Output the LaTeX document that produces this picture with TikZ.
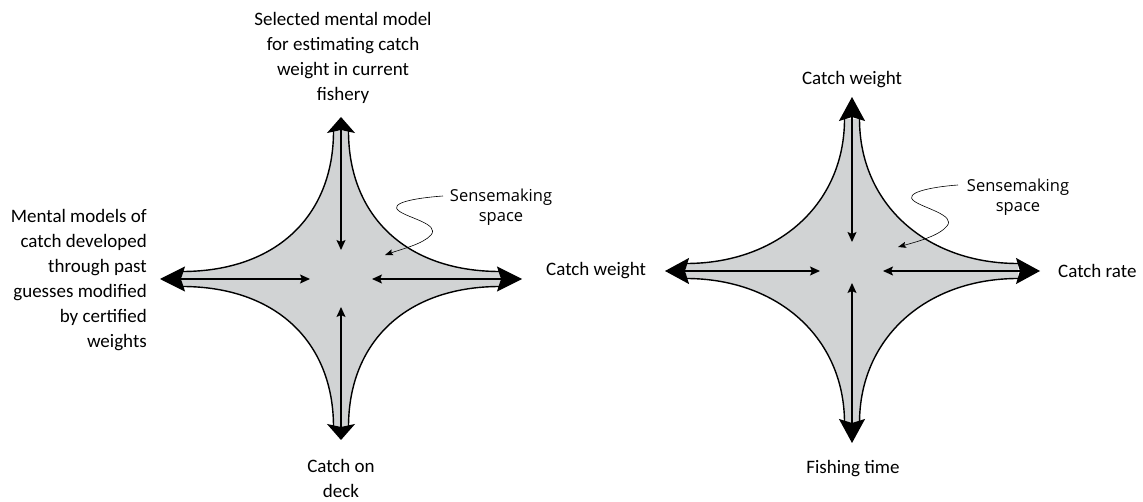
\documentclass[tikz,border=0pt]{standalone}
\usepackage{fontspec}
\setmainfont{Carlito}
\newfontfamily\smfont{Open Sans}
\usetikzlibrary{arrows.meta}
\definecolor{stargray}{RGB}{209,211,212}
\tikzset{
  bigh/.tip={Stealth[length=25pt,width=25pt,inset=4pt]},
  bigv/.tip={Stealth[length=16pt,width=28pt,inset=3pt]},
  bigr/.tip={Stealth[length=24pt,width=26pt,inset=4pt]},
  smalltip/.tip={Stealth[length=10pt,width=9pt,inset=2pt]},
  thintip/.tip={Stealth[length=8pt,width=6pt,inset=1.5pt]},
  outline/.style={line width=1.4pt,black},
  axisarrow/.style={line width=1.3pt,black},
  squiggle/.style={line width=0.6pt,black,-thintip},
  lbl/.style={font=\fontsize{19}{25}\selectfont,inner sep=0pt,align=center},
  smlbl/.style={font=\smfont\fontsize{16.5}{20}\selectfont,inner sep=0pt,align=center},
}
% #1 Lh, #2 Lv, #3 ah, #4 av
\newcommand\starshape[4]{%
  \fill[stargray] (7.5,-#2) .. controls (7.5,-#4) and (#3,-7.5) .. (#1,-7.5)
    -- (#1,7.5) .. controls (#3,7.5) and (7.5,#4) .. (7.5,#2)
    -- (-7.5,#2) .. controls (-7.5,#4) and (-#3,7.5) .. (-#1,7.5)
    -- (-#1,-7.5) .. controls (-#3,-7.5) and (-7.5,-#4) .. (-7.5,-#2) -- cycle;
  \draw[outline] (7.5,-#2) .. controls (7.5,-#4) and (#3,-7.5) .. (#1,-7.5);
  \draw[outline] (#1,7.5) .. controls (#3,7.5) and (7.5,#4) .. (7.5,#2);
  \draw[outline] (-7.5,#2) .. controls (-7.5,#4) and (-#3,7.5) .. (-#1,7.5);
  \draw[outline] (-#1,-7.5) .. controls (-#3,-7.5) and (-7.5,-#4) .. (-7.5,-#2);
}
\begin{document}
\begin{tikzpicture}[x=1pt,y=-1pt]
\useasboundingbox (0,0) rectangle (1143,502);

% ---------- left star ----------
\begin{scope}[shift={(341,279)}]
  \starshape{159}{148}{65}{63}
\end{scope}
\coordinate (LT) at (341,117);
\coordinate (LB) at (341,440);
\coordinate (LL) at (160,279);
\coordinate (LR) at (522,279);
\coordinate (LTi) at (341,250);
\coordinate (LBi) at (341,307);
\coordinate (LLi) at (310,279);
\coordinate (LRi) at (372,279);
\draw[axisarrow,bigv-smalltip] (LT) -- (LTi);
\draw[axisarrow,bigv-smalltip] (LB) -- (LBi);
\draw[axisarrow,bigh-smalltip] (LL) -- (LLi);
\draw[axisarrow,bigh-smalltip] (LR) -- (LRi);

\node[lbl] (ltop) at (343,57.5) {Selected mental model\\for estimating catch\\weight in current\\fishery};
\node[lbl,align=right,anchor=east] (lleft) at (147,280.5) {Mental models of\\catch developed\\through past\\guesses modified\\by certified\\weights};
\node[lbl,anchor=west] (lright) at (546,271) {Catch weight};
\node[lbl] (lbottom) at (341,478.5) {Catch on\\deck};

\node[smlbl] (lsense) at (501,207) {Sensemaking\\space};
\coordinate (LSs) at (443,196);
\coordinate (LSe) at (385,255);
\draw[squiggle] (LSs) .. controls (415,198) and (388,203) .. (399,211)
  .. controls (408,218) and (440,224) .. (431,235)
  .. controls (423,244) and (402,249) .. (LSe);

% ---------- right star ----------
\begin{scope}[shift={(852,271)}]
  \starshape{166}{152}{74}{67}
\end{scope}
\coordinate (RT) at (852,97);
\coordinate (RB) at (852,443);
\coordinate (RL) at (665,271);
\coordinate (RR) at (1040,271);
\coordinate (RTi) at (852,242);
\coordinate (RBi) at (852,283);
\coordinate (RLi) at (820,271);
\coordinate (RRi) at (883,271);
\draw[axisarrow,bigr-smalltip] (RT) -- (RTi);
\draw[axisarrow,bigr-smalltip] (RB) -- (RBi);
\draw[axisarrow,bigr-smalltip] (RL) -- (RLi);
\draw[axisarrow,bigr-smalltip] (RR) -- (RRi);

\node[lbl] (rtop) at (852,80) {Catch weight};
\node[lbl,anchor=west] (rright) at (1058,271) {Catch rate};
\node[lbl] (rbottom) at (853,469) {Fishing time};

\node[smlbl] (rsense) at (1018,197) {Sensemaking\\space};
\coordinate (RSs) at (958,185);
\coordinate (RSe) at (898,247);
\draw[squiggle] (RSs) .. controls (930,187) and (903,193) .. (914,201)
  .. controls (923,208) and (956,215) .. (947,226)
  .. controls (939,236) and (916,242) .. (RSe);
\end{tikzpicture}
\end{document}
